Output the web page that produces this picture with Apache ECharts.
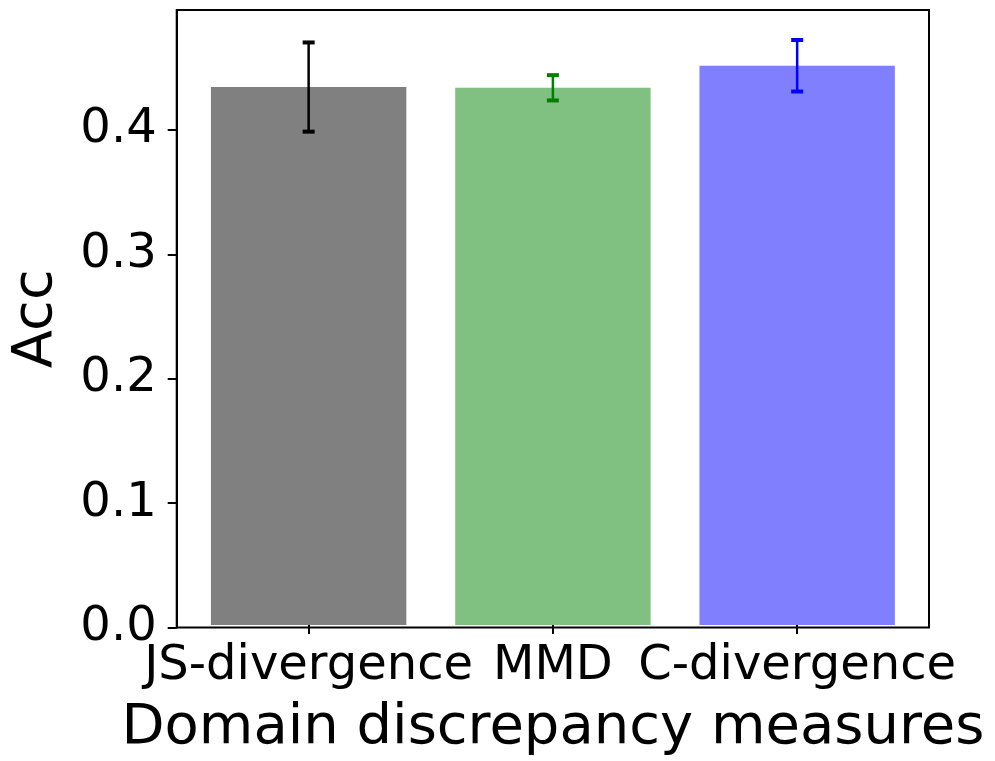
<!DOCTYPE html>
<html>
<head>
<meta charset="utf-8">
<script src="https://cdn.jsdelivr.net/npm/echarts@6/dist/echarts.min.js"></script>
<style>
html,body{margin:0;padding:0;background:#fff;}
#chart{width:995px;height:761px;}
</style>
</head>
<body>
<div id="chart"></div>
<script>
// ---- data ----
var categories = ['JS-divergence', 'MMD', 'C-divergence'];
var accMeans = [0.4343, 0.4337, 0.4515];
var accErrors = [0.0360, 0.0102, 0.0208];
var yTickValues = [0.0, 0.1, 0.2, 0.3, 0.4];

// ---- styles ----
var barColors = ['#808080', '#80c080', '#8080ff'];
var errColors = ['#000000', '#008000', '#0000ff'];
var FONT = 'DejaVu Sans';

var chart = echarts.init(document.getElementById('chart'), null, {renderer: 'canvas'});

var barData = accMeans.map(function (v, i) {
  return {value: v, itemStyle: {color: barColors[i]}};
});
var errData = accMeans.map(function (v, i) {
  return [i, v - accErrors[i], v + accErrors[i]];
});

var yMax = 0.4965;

var option = {
  backgroundColor: '#fff',
  animation: false,
  grid: [
    {left: 176.7, right: 66, top: 10, bottom: 133.5, show: true, borderColor: '#000', borderWidth: 2, backgroundColor: 'transparent'},
    {left: 186.5, right: 75.7, top: 10, bottom: 133.5}
  ],
  xAxis: [
    {type: 'value', gridIndex: 0, min: -0.54, max: 2.54, show: false},
    {
      type: 'category', gridIndex: 1, data: categories,
      axisLine: {show: false},
      axisTick: {show: true, alignWithLabel: true, length: 9, lineStyle: {color: '#000', width: 2}},
      axisLabel: {fontSize: 48, color: '#000', fontFamily: FONT, margin: 18, interval: 0},
      name: 'Domain discrepancy measures', nameLocation: 'middle', nameGap: 75,
      nameTextStyle: {fontSize: 56, color: '#000', fontFamily: FONT},
      splitLine: {show: false}
    }
  ],
  yAxis: [
    {
      type: 'value', gridIndex: 0, min: 0, max: yMax, interval: 0.1,
      axisLine: {show: true, onZero: false, lineStyle: {color: '#000', width: 2}},
      axisTick: {show: true, length: 9, customValues: yTickValues, lineStyle: {color: '#000', width: 2}},
      axisLabel: {
        fontSize: 48, color: '#000', fontFamily: FONT, margin: 20,
        customValues: yTickValues,
        formatter: function (v) {
          for (var k = 0; k < yTickValues.length; k++) {
            if (Math.abs(yTickValues[k] - v) < 1e-9) return yTickValues[k].toFixed(1);
          }
          return '';
        }
      },
      splitLine: {show: false},
      name: 'Acc', nameLocation: 'middle', nameRotate: 90, nameGap: 112,
      nameTextStyle: {fontSize: 56, color: '#000', fontFamily: FONT}
    },
    {type: 'value', gridIndex: 1, min: 0, max: yMax, show: false, axisLine: {onZero: false}, splitLine: {show: false}}
  ],
  series: [
    {
      type: 'bar', xAxisIndex: 1, yAxisIndex: 1, data: barData,
      barWidth: '80%', z: 2
    },
    {
      type: 'custom', xAxisIndex: 1, yAxisIndex: 1, data: errData, z: 5,
      renderItem: function (params, api) {
        var i = api.value(0);
        var lo = api.coord([i, api.value(1)]);
        var hi = api.coord([i, api.value(2)]);
        var color = errColors[params.dataIndex];
        var half = 6;
        return {
          type: 'group',
          children: [
            {type: 'line', shape: {x1: lo[0], y1: lo[1], x2: hi[0], y2: hi[1]}, style: {stroke: color, lineWidth: 2.5}},
            {type: 'line', shape: {x1: lo[0] - half, y1: lo[1], x2: lo[0] + half, y2: lo[1]}, style: {stroke: color, lineWidth: 4}},
            {type: 'line', shape: {x1: hi[0] - half, y1: hi[1], x2: hi[0] + half, y2: hi[1]}, style: {stroke: color, lineWidth: 4}}
          ]
        };
      }
    }
  ]
};
chart.setOption(option);
</script>
</body>
</html>
